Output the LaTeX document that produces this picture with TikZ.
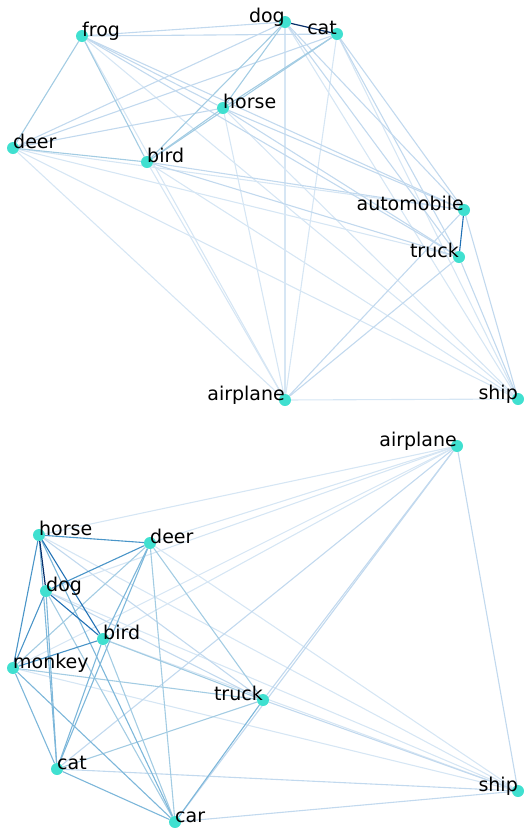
\documentclass[tikz,border=0pt]{standalone}
\usepackage{fontspec}
\setmainfont{DejaVu Sans}
\usepackage{tikz}
\usetikzlibrary{backgrounds}
\usepackage{xcolor}
\definecolor{blues1}{HTML}{D6E6F4}
\definecolor{blues2}{HTML}{C2D9EE}
\definecolor{blues3}{HTML}{A3CCE3}
\definecolor{blues4}{HTML}{7DB7DA}
\definecolor{blues5}{HTML}{4A95C8}
\definecolor{blues6}{HTML}{2171B5}
\definecolor{blues8}{HTML}{08306B}
\definecolor{classcol}{HTML}{40E0D0}

\begin{document}
\begin{tikzpicture}[x=1pt, y=-1pt]
    % Define styles
    \tikzstyle{cls} = [circle, fill=classcol, minimum size=12pt, inner sep=0pt]
    \tikzstyle{namew} = [anchor=base west, inner sep=0pt, font=\fontsize{19}{21}\selectfont]
    \tikzstyle{namee} = [anchor=base east, inner sep=0pt, font=\fontsize{19}{21}\selectfont]
    \tikzstyle{w1} = [draw=blues1, line width=1.1pt]
    \tikzstyle{w2} = [draw=blues2, line width=1.1pt]
    \tikzstyle{w3} = [draw=blues3, line width=1.1pt]
    \tikzstyle{w4} = [draw=blues4, line width=1.1pt]
    \tikzstyle{w5} = [draw=blues5, line width=1.1pt]
    \tikzstyle{w6} = [draw=blues6, line width=1.1pt]
    \tikzstyle{w8} = [draw=blues8, line width=1.2pt]

    \useasboundingbox (0,0) rectangle (524,828);

    % Place nodes - upper graph
    \node [cls] (c-frog) at (82,36) {};
    \node [cls] (c-deer) at (13,148) {};
    \node [cls] (c-bird) at (147,162) {};
    \node [cls] (c-horse) at (223,108) {};
    \node [cls] (c-dog) at (285,22) {};
    \node [cls] (c-cat) at (337,34) {};
    \node [cls] (c-automobile) at (464,210) {};
    \node [cls] (c-truck) at (459,257) {};
    \node [cls] (c-airplane) at (285,400) {};
    \node [cls] (c-ship) at (518,399) {};

    % Place nodes - lower graph
    \node [cls] (s-airplane) at (457,446) {};
    \node [cls] (s-horse) at (39,535) {};
    \node [cls] (s-deer) at (150,543) {};
    \node [cls] (s-dog) at (46,591) {};
    \node [cls] (s-bird) at (103,639) {};
    \node [cls] (s-monkey) at (13,668) {};
    \node [cls] (s-truck) at (263,700) {};
    \node [cls] (s-cat) at (57,769) {};
    \node [cls] (s-car) at (175,822) {};
    \node [cls] (s-ship) at (518,791) {};

    \begin{pgfonlayer}{background}
    % Draw edges - upper graph
    \path [w1] (c-frog) -- (c-airplane);
    \path [w1] (c-frog) -- (c-ship);
    \path [w1] (c-deer) -- (c-automobile);
    \path [w1] (c-deer) -- (c-truck);
    \path [w1] (c-deer) -- (c-airplane);
    \path [w1] (c-deer) -- (c-ship);
    \path [w1] (c-bird) -- (c-airplane);
    \path [w1] (c-bird) -- (c-ship);
    \path [w1] (c-horse) -- (c-airplane);
    \path [w1] (c-horse) -- (c-ship);
    \path [w1] (c-dog) -- (c-airplane);
    \path [w1] (c-dog) -- (c-ship);
    \path [w1] (c-cat) -- (c-airplane);
    \path [w1] (c-cat) -- (c-ship);
    \path [w1] (c-airplane) -- (c-ship);
    \path [w2] (c-frog) -- (c-horse);
    \path [w2] (c-frog) -- (c-dog);
    \path [w2] (c-frog) -- (c-cat);
    \path [w2] (c-frog) -- (c-automobile);
    \path [w2] (c-frog) -- (c-truck);
    \path [w2] (c-deer) -- (c-horse);
    \path [w2] (c-deer) -- (c-dog);
    \path [w2] (c-deer) -- (c-cat);
    \path [w2] (c-bird) -- (c-automobile);
    \path [w2] (c-bird) -- (c-truck);
    \path [w2] (c-horse) -- (c-automobile);
    \path [w2] (c-horse) -- (c-truck);
    \path [w2] (c-dog) -- (c-automobile);
    \path [w2] (c-dog) -- (c-truck);
    \path [w2] (c-cat) -- (c-automobile);
    \path [w2] (c-cat) -- (c-truck);
    \path [w2] (c-automobile) -- (c-airplane);
    \path [w2] (c-automobile) -- (c-ship);
    \path [w2] (c-truck) -- (c-airplane);
    \path [w2] (c-truck) -- (c-ship);
    \path [w3] (c-frog) -- (c-deer);
    \path [w3] (c-frog) -- (c-bird);
    \path [w3] (c-deer) -- (c-bird);
    \path [w3] (c-bird) -- (c-horse);
    \path [w3] (c-bird) -- (c-dog);
    \path [w3] (c-bird) -- (c-cat);
    \path [w3] (c-horse) -- (c-dog);
    \path [w3] (c-horse) -- (c-cat);
    \path [w6] (c-automobile) -- (c-truck);
    \path [w8] (c-dog) -- (c-cat);

    % Draw edges - lower graph
    \path [w1] (s-horse) -- (s-airplane);
    \path [w1] (s-horse) -- (s-ship);
    \path [w1] (s-dog) -- (s-airplane);
    \path [w1] (s-dog) -- (s-ship);
    \path [w1] (s-deer) -- (s-airplane);
    \path [w1] (s-deer) -- (s-ship);
    \path [w1] (s-bird) -- (s-airplane);
    \path [w1] (s-bird) -- (s-ship);
    \path [w1] (s-monkey) -- (s-airplane);
    \path [w1] (s-monkey) -- (s-ship);
    \path [w2] (s-cat) -- (s-airplane);
    \path [w2] (s-cat) -- (s-ship);
    \path [w2] (s-car) -- (s-airplane);
    \path [w2] (s-car) -- (s-ship);
    \path [w2] (s-truck) -- (s-airplane);
    \path [w2] (s-truck) -- (s-ship);
    \path [w2] (s-airplane) -- (s-ship);
    \path [w2] (s-horse) -- (s-truck);
    \path [w2] (s-dog) -- (s-truck);
    \path [w3] (s-dog) -- (s-car);
    \path [w3] (s-deer) -- (s-monkey);
    \path [w3] (s-deer) -- (s-car);
    \path [w3] (s-deer) -- (s-truck);
    \path [w3] (s-bird) -- (s-car);
    \path [w3] (s-bird) -- (s-truck);
    \path [w3] (s-monkey) -- (s-truck);
    \path [w3] (s-cat) -- (s-truck);
    \path [w4] (s-horse) -- (s-cat);
    \path [w4] (s-horse) -- (s-car);
    \path [w4] (s-dog) -- (s-cat);
    \path [w4] (s-deer) -- (s-bird);
    \path [w4] (s-deer) -- (s-cat);
    \path [w4] (s-bird) -- (s-cat);
    \path [w4] (s-monkey) -- (s-cat);
    \path [w4] (s-monkey) -- (s-car);
    \path [w4] (s-cat) -- (s-car);
    \path [w4] (s-car) -- (s-truck);
    \path [w5] (s-horse) -- (s-monkey);
    \path [w5] (s-horse) -- (s-deer);
    \path [w5] (s-dog) -- (s-deer);
    \path [w5] (s-dog) -- (s-monkey);
    \path [w5] (s-bird) -- (s-monkey);
    \path [w6] (s-horse) -- (s-bird);
    \path [w6] (s-dog) -- (s-bird);
    \path [w8] (s-horse) -- (s-dog);
    \end{pgfonlayer}

    % Class names - upper graph
    \node [namew] (c-frog-t) at (c-frog.center) {frog};
    \node [namew] (c-deer-t) at (c-deer.center) {deer};
    \node [namew] (c-bird-t) at (c-bird.center) {bird};
    \node [namew] (c-horse-t) at (c-horse.center) {horse};
    \node [namee] (c-dog-t) at (c-dog.center) {dog};
    \node [namee] (c-cat-t) at (c-cat.center) {cat};
    \node [namee] (c-automobile-t) at (c-automobile.center) {automobile};
    \node [namee] (c-truck-t) at (c-truck.center) {truck};
    \node [namee] (c-airplane-t) at (c-airplane.center) {airplane};
    \node [namee] (c-ship-t) at (c-ship.center) {ship};

    % Class names - lower graph
    \node [namee] (s-airplane-t) at (s-airplane.center) {airplane};
    \node [namew] (s-horse-t) at (s-horse.center) {horse};
    \node [namew] (s-deer-t) at (s-deer.center) {deer};
    \node [namew] (s-dog-t) at (s-dog.center) {dog};
    \node [namew] (s-bird-t) at (s-bird.center) {bird};
    \node [namew] (s-monkey-t) at (s-monkey.center) {monkey};
    \node [namee] (s-truck-t) at (s-truck.center) {truck};
    \node [namew] (s-cat-t) at (s-cat.center) {cat};
    \node [namew] (s-car-t) at (s-car.center) {car};
    \node [namee] (s-ship-t) at (s-ship.center) {ship};
\end{tikzpicture}
\end{document}
